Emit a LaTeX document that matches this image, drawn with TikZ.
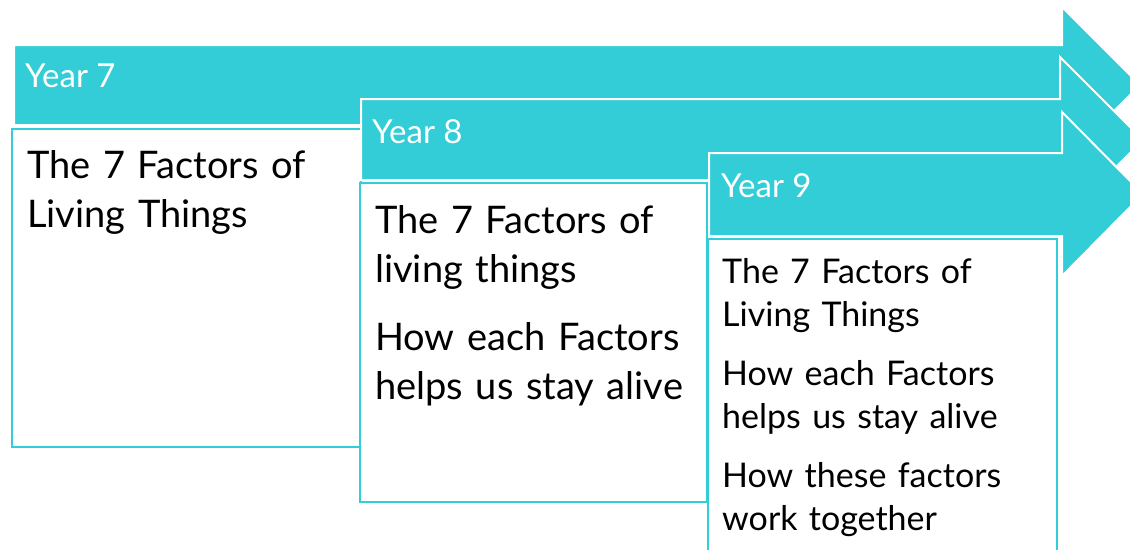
\documentclass[tikz,border=0pt]{standalone}
\usepackage{fontspec}
\setmainfont{Lato}
\usetikzlibrary{positioning}
\definecolor{yearcyan}{RGB}{50,205,215}
\tikzset{
  yrarrow/.style = {fill=yearcyan, draw=white, line width=2pt, line join=miter},
  yrbox/.style   = {fill=white, draw=yearcyan, line width=2.5pt},
  yrlbl/.style   = {anchor=base west, inner sep=0pt, text=white,
                    font=\fontsize{33}{40}\selectfont},
  yrtxt/.style   = {anchor=base west, inner sep=0pt, align=left, text width=330pt,
                    font=\fontsize{38}{49}\selectfont},
  yrtxts/.style  = {anchor=base west, inner sep=0pt, align=left, text width=330pt,
                    font=\fontsize{34}{43}\selectfont},
}

\begin{document}
\begin{tikzpicture}[x=1pt, y=-1pt]

  \useasboundingbox (0,0) rectangle (1130,549);
  \fill[white] (0,0) rectangle (1130,549);
  \clip (0,0) rectangle (1130,549);

  % Year 7
  \draw[yrarrow] (14,45) -- (1062,45) -- (1062,7) -- (1140,85) -- (1062,163)
                 -- (1062,125) -- (14,125) -- cycle;
  \node[yrlbl] (y7) at (25,87) {Year 7};
  \draw[yrbox] (12,129) rectangle (361,447);
  \node[yrtxt] (t7) at (27,178) {The 7 Factors of\\ Living Things};

  % Year 8
  \draw[yrarrow] (361,99) -- (1060,99) -- (1060,57) -- (1143,140) -- (1060,223)
                 -- (1060,180) -- (361,180) -- cycle;
  \node[yrlbl] (y8) at (372,143) {Year 8};
  \draw[yrbox] (360,183) rectangle (707,502);
  \node[yrtxt] (t8) at (375,233) {The 7 Factors of\\ living things\\[19pt]
                                  How each Factors\\ helps us stay alive};

  % Year 9
  \draw[yrarrow] (709,153) -- (1062,153) -- (1062,112) -- (1143,194) -- (1062,276)
                 -- (1062,236) -- (709,236) -- cycle;
  \node[yrlbl] (y9) at (721,197) {Year 9};
  \draw[yrbox] (708,239) rectangle (1057,570);
  \node[yrtxts] (t9) at (722,283) {The 7 Factors of\\ Living Things\\[16pt]
                                   How each Factors\\ helps us stay alive\\[16pt]
                                   How these factors\\ work together};

\end{tikzpicture}
\end{document}
